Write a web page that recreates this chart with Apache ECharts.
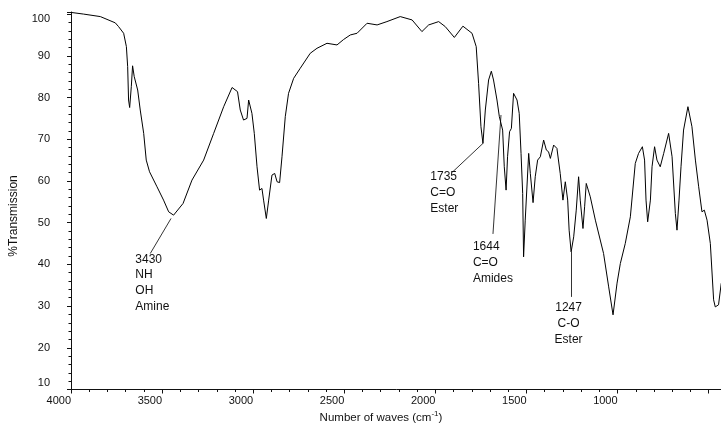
<!DOCTYPE html>
<html>
<head>
<meta charset="utf-8">
<script src="https://cdn.jsdelivr.net/npm/echarts@6/dist/echarts.min.js"></script>
<style>
  html, body { margin: 0; padding: 0; background: #fff; }
  #chart { width: 721px; height: 424px; }
</style>
</head>
<body>
<div id="chart"></div>
<script>
// IR spectrum (cm-1 / %T)
const wavenumbers = [
  4000, 3931, 3839, 3757, 3739, 3711, 3696, 3689, 3684, 3678,
  3669, 3662, 3653, 3634, 3620, 3601, 3587, 3569, 3528, 3492,
  3464, 3437, 3385, 3336, 3272, 3217, 3162, 3116, 3086, 3071,
  3053, 3034, 3025, 3007, 2994, 2979, 2965, 2952, 2943, 2928,
  2915, 2897, 2882, 2869, 2855, 2842, 2824, 2806, 2778, 2742,
  2687, 2650, 2595, 2540, 2504, 2467, 2430, 2375, 2320, 2266,
  2193, 2128, 2074, 2037, 1982, 1946, 1896, 1849, 1799, 1776,
  1763, 1750, 1739, 1726, 1708, 1693, 1681, 1662, 1649, 1640,
  1631, 1622, 1612, 1604, 1593, 1583, 1571, 1552, 1540, 1530,
  1521, 1516, 1507, 1488, 1479, 1464, 1452, 1439, 1424, 1406,
  1391, 1379, 1369, 1351, 1333, 1315, 1300, 1287, 1274, 1266,
  1255, 1241, 1227, 1214, 1205, 1190, 1181, 1172, 1150, 1122,
  1077, 1049, 1025, 1003, 985, 958, 930, 903, 885, 864,
  852, 844, 835, 820, 811, 797, 784, 766, 747, 720,
  701, 683, 674, 663, 652, 638, 614, 592, 573, 555,
  537, 524, 509, 491, 473, 464, 446, 431
]
const transmission = [
  100.4, 100.0, 99.4, 97.9, 97.0, 95.4, 92.2, 87.4, 79.4, 77.6,
  82.6, 87.6, 85.0, 81.8, 77.0, 71.4, 65.0, 62.2, 58.6, 55.4,
  52.6, 51.8, 54.6, 60.2, 65.0, 71.4, 77.8, 82.4, 81.4, 77.0,
  74.6, 75.0, 79.4, 76.2, 71.4, 63.4, 57.8, 58.2, 55.4, 51.0,
  55.4, 61.4, 61.8, 59.8, 59.6, 65.8, 75.4, 81.0, 84.6, 87.0,
  90.6, 91.8, 93.0, 92.6, 93.9, 95.0, 95.4, 97.8, 97.4, 98.2,
  99.4, 98.6, 95.8, 97.4, 98.2, 97.0, 94.4, 97.1, 95.4, 92.2,
  83.4, 73.0, 69.0, 77.0, 84.2, 86.3, 84.2, 79.4, 75.4, 75.8,
  72.2, 63.4, 57.8, 65.8, 71.8, 72.6, 81.0, 79.4, 76.2, 66.6,
  57.0, 41.8, 50.6, 66.6, 61.8, 54.8, 61.0, 65.0, 65.8, 69.8,
  67.4, 67.0, 65.4, 68.6, 67.8, 61.8, 55.4, 59.8, 55.4, 48.2,
  43.0, 46.6, 53.0, 61.0, 55.4, 48.6, 53.8, 59.4, 56.2, 50.6,
  42.6, 34.6, 27.9, 35.5, 40.2, 45.0, 51.4, 64.2, 66.6, 68.2,
  65.0, 55.4, 50.2, 55.4, 63.4, 68.2, 65.0, 63.4, 66.6, 71.4,
  65.8, 52.2, 48.2, 55.4, 63.4, 72.2, 77.8, 73.0, 65.0, 58.6,
  52.6, 53.0, 50.6, 45.0, 31.5, 29.8, 30.3, 35.5
]

// annotations: text, where the text block sits, and the leader line ends
const noteTexts = ['3430\nNH\nOH\nAmine', '1735\nC=O\nEster', '1644\nC=O\nAmides', '1247\nC-O\nEster']
const noteAt = [[3647, 43.1], [2028, 62.9], [1794, 46.1], [1269, 31.4]]
const noteAlign = ['left', 'left', 'left', 'center']
const leaderFrom = [[3451, 51.0], [1739, 69.0], [1640, 75.8], [1255, 43.0]]
const leaderTo = [[3565, 42.6], [1907, 62.1], [1684, 47.3], [1255, 32.2]]

const yTicks = [10, 20, 30, 40, 50, 60, 70, 80, 90, 100]
const xTicks = [4000, 3500, 3000, 2500, 2000, 1500, 1000]

const FONT = 'Liberation Sans, Arial, sans-serif'
const INK = '#111'

var myChart = echarts.init(document.getElementById('chart'))

var option = {
  animation: false,
  backgroundColor: '#fff',
  // the axis runs on past the right edge of the picture (down to 0)
  grid: { left: 71, top: 12, width: 728.8, height: 377.5, outerBoundsMode: 'none', containLabel: false },
  xAxis: {
    type: 'value',
    inverse: true,
    min: 0,
    max: 4000,
    interval: 500,
    axisLine: { onZero: false, lineStyle: { color: INK, width: 1 } },
    axisTick: { show: true, length: 4, lineStyle: { color: INK } },
    minorTick: { show: true, splitNumber: 5, length: 2.5, lineStyle: { color: INK } },
    splitLine: { show: false },
    axisLabel: {
      color: INK,
      fontFamily: FONT,
      fontSize: 11,
      align: 'right',
      margin: 6,
      showMaxLabel: true,
      formatter: function (v) { return xTicks.indexOf(v) >= 0 ? String(v) : '' },
    },
  },
  yAxis: {
    type: 'value',
    position: 'left',
    min: 10,
    max: 100.5,
    interval: 10,
    axisLine: { show: true, onZero: false, lineStyle: { color: INK, width: 1 } },
    axisTick: { show: true, length: 4, lineStyle: { color: INK } },
    minorTick: { show: true, splitNumber: 5, length: 2.5, lineStyle: { color: INK } },
    splitLine: { show: false },
    axisLabel: {
      color: INK,
      fontFamily: FONT,
      fontSize: 11,
      margin: 21,
      formatter: function (v) {
        if (v === 100) return '{hi|100}'
        if (v === 10) return '{lo|10}'
        return yTicks.indexOf(v) >= 0 ? String(v) : ''
      },
      rich: {
        hi: { fontSize: 11, fontFamily: FONT, color: INK, padding: [9, 0, 0, 0] },
        lo: { fontSize: 11, fontFamily: FONT, color: INK, padding: [0, 0, 13, 0] },
      },
    },
  },
  graphic: [
    {
      type: 'text',
      x: 381,
      y: 418,
      style: {
        text: 'Number of waves (cm{sup|-1})',
        fill: INK,
        font: '11.5px ' + FONT,
        align: 'center',
        verticalAlign: 'middle',
        rich: {
          sup: { fontSize: 8, fontFamily: FONT, fill: INK, padding: [0, 0, 9, 0] },
        },
      },
    },
    {
      type: 'text',
      x: 14,
      y: 216,
      rotation: Math.PI / 2,
      style: {
        text: '%Transmission',
        fill: INK,
        font: '12px ' + FONT,
        align: 'center',
        verticalAlign: 'middle',
      },
    },
  ],
  series: [
    {
      type: 'line',
      data: wavenumbers.map(function (w, i) { return [w, transmission[i]] }),
      showSymbol: false,
      symbol: 'none',
      lineStyle: { color: '#000', width: 1 },
      silent: true,
      markLine: {
        silent: true,
        symbol: ['none', 'none'],
        label: { show: false },
        lineStyle: { color: '#000', width: 0.8, type: 'solid' },
        data: leaderFrom.map(function (p, i) {
          return [{ coord: p }, { coord: leaderTo[i] }]
        }),
      },
      markPoint: {
        silent: true,
        symbol: 'circle',
        symbolSize: 0,
        data: noteTexts.map(function (t, i) {
          return {
            coord: noteAt[i],
            value: t,
            label: {
              show: true,
              position: [0, 0],
              formatter: t,
              align: noteAlign[i],
              verticalAlign: 'top',
              color: INK,
              fontFamily: FONT,
              fontSize: 12,
              lineHeight: 15.8,
            },
          }
        }),
      },
    },
  ],
}
myChart.setOption(option)
</script>
</body>
</html>
